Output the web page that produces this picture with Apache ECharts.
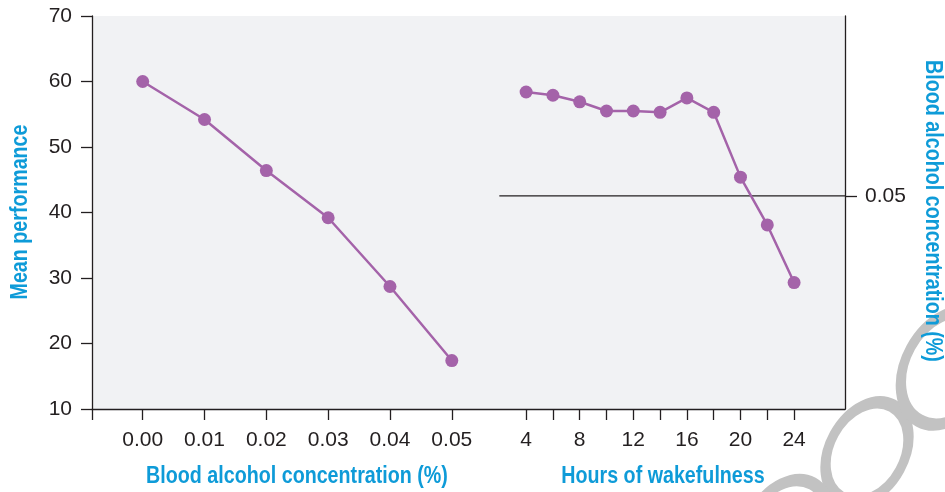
<!DOCTYPE html>
<html>
<head>
<meta charset="utf-8">
<script src="https://cdn.jsdelivr.net/npm/echarts@6/dist/echarts.min.js"></script>
<style>
  html, body { margin: 0; padding: 0; background: #fff; }
  #main { width: 945px; height: 492px; }
</style>
</head>
<body>
<div id="main"></div>
<script>
// 血液酒精浓度 vs 表现
const bacLevels = [0.00, 0.01, 0.02, 0.03, 0.04, 0.05];
const bacPerformance = [60, 54.2, 46.4, 39.2, 28.7, 17.4];

// 清醒时长 vs 表现
const hoursAwake = [4, 6, 8, 10, 12, 14, 16, 18, 20, 22, 24];
const hoursPerformance = [58.4, 57.9, 56.9, 55.5, 55.5, 55.3, 57.5, 55.3, 45.4, 38.1, 29.3];

const bacLabels = [0.00, 0.01, 0.02, 0.03, 0.04, 0.05];
const hourTicks = [4, 6, 8, 10, 12, 14, 16, 18, 20, 22, 24];
const hourLabels = [4, 8, 12, 16, 20, 24];
const refBac = 0.05; // 右轴参考线
const refLineFrom = 2; // 参考线起点(小时)

// 两个x轴共用一个grid，用范围来错开位置
const bacMin = -0.0082, bacMax = 0.1136;
const hourMin = -28.4, hourMax = 27.8;

const ink = '#231f20';
const blue = '#0e9bd8';
const purple = '#a463a9';
const numFont = "'Liberation Sans', Arial, sans-serif";
// 标题用窄体: 粗体再横向压缩
const titleFont = "bold 24px 'Liberation Sans', Arial, sans-serif";
const narrow = 0.82;

let chart = echarts.init(document.getElementById('main'), null, { renderer: 'canvas' });

function title(text, x, y, rot) {
  return {
    type: 'text', x: x, y: y, rotation: rot || 0, scaleX: narrow, z: 10,
    style: { text: text, fill: blue, font: titleFont, textAlign: 'center', textVerticalAlign: 'middle' }
  };
}

function ring(x, y, r) {
  return {
    type: 'circle', shape: { cx: 0, cy: 0, r: r }, x: x, y: y, scaleX: 0.85, scaleY: 1.2, rotation: -0.5,
    style: { fill: 'none', stroke: '#c2c2c2', lineWidth: 11 }, z: -1
  };
}

let option = {
  animation: false,
  backgroundColor: '#fff',
  grid: {
    left: 92, right: 100, top: 16, bottom: 83, outerBoundsMode: 'none',
    show: true, backgroundColor: '#f1f2f4', borderWidth: 0
  },
  xAxis: [{
    type: 'value', min: bacMin, max: bacMax, position: 'bottom',
    axisLine: { show: true, onZero: false, lineStyle: { color: ink, width: 1.3 } },
    axisTick: { show: true, length: 11, lineStyle: { color: ink, width: 1.3 },
      customValues: [bacMin].concat(bacLabels) },
    axisLabel: { customValues: bacLabels, margin: 21, color: ink, fontSize: 21, fontFamily: numFont,
      formatter: v => v.toFixed(2) },
    splitLine: { show: false }
  }, {
    type: 'value', min: hourMin, max: hourMax, position: 'bottom',
    axisLine: { show: false, onZero: false },
    axisTick: { show: true, length: 11, lineStyle: { color: ink, width: 1.3 }, customValues: hourTicks },
    axisLabel: { customValues: hourLabels, margin: 21, color: ink, fontSize: 21, fontFamily: numFont },
    splitLine: { show: false }
  }],
  yAxis: [{
    type: 'value', min: 10, max: 70, interval: 10, position: 'left',
    axisLine: { show: true, onZero: false, lineStyle: { color: ink, width: 1.3 } },
    axisTick: { show: true, length: 11, lineStyle: { color: ink, width: 1.3 } },
    axisLabel: { margin: 20, color: ink, fontSize: 21, fontFamily: numFont },
    splitLine: { show: false }
  }, {
    type: 'value', min: 0, max: 0.0922, position: 'right',
    axisLine: { show: true, onZero: false, lineStyle: { color: ink, width: 1.3 } },
    axisTick: { show: true, length: 12, lineStyle: { color: ink, width: 1.3 }, customValues: [refBac] },
    axisLabel: { customValues: [refBac], margin: 20, color: ink, fontSize: 21, fontFamily: numFont,
      formatter: v => v.toFixed(2) },
    splitLine: { show: false }
  }],
  graphic: [
    title('Blood alcohol concentration (%)', 297, 476),
    title('Hours of wakefulness', 663, 476),
    title('Mean performance', 20, 212, Math.PI / 2),
    title('Blood alcohol concentration (%)', 933, 211, -Math.PI / 2),
    // 水印圈
    ring(867, 452, 44),
    ring(948, 368, 50),
    ring(786, 532, 46)
  ],
  series: [{
    type: 'line', xAxisIndex: 0, yAxisIndex: 0,
    data: bacLevels.map((x, i) => [x, bacPerformance[i]]),
    symbol: 'circle', symbolSize: 13,
    lineStyle: { color: purple, width: 2.5 },
    itemStyle: { color: purple },
    z: 5
  }, {
    type: 'line', xAxisIndex: 1, yAxisIndex: 0,
    data: hoursAwake.map((x, i) => [x, hoursPerformance[i]]),
    symbol: 'circle', symbolSize: 13,
    lineStyle: { color: purple, width: 2.5 },
    itemStyle: { color: purple },
    z: 5
  }, {
    type: 'line', xAxisIndex: 1, yAxisIndex: 1,
    data: [[refLineFrom, refBac], [hourMax, refBac]],
    symbol: 'none', silent: true,
    lineStyle: { color: ink, width: 1.3 },
    z: 3
  }]
};

chart.setOption(option);
</script>
</body>
</html>
